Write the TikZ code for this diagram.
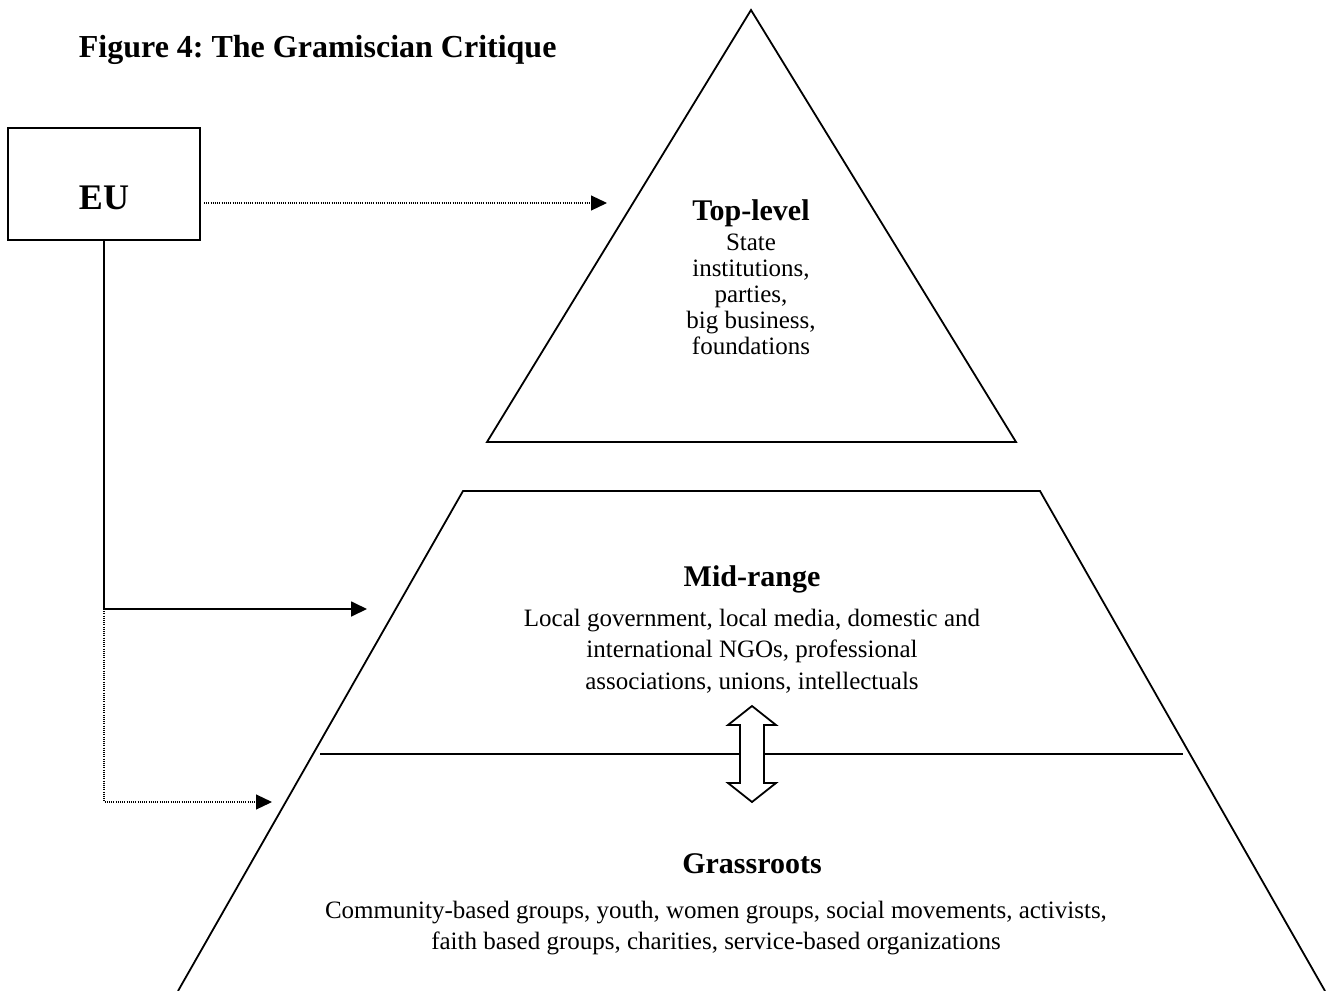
\documentclass[tikz,border=0pt]{standalone}
\usepackage{fontspec}
\setmainfont{Liberation Serif}
\usetikzlibrary{arrows.meta}
\frenchspacing

\tikzset{
	tip/.style={-{Triangle[length=8pt,width=7.5pt]}},
	dots/.style={line width=0.6pt, dash pattern=on 0.5pt off 0.6pt},
	levelhead/.style={anchor=base, inner sep=0pt, font=\fontsize{15}{17}\selectfont\bfseries},
	leveltext/.style={anchor=north, inner sep=0pt, align=center},
}

\begin{document}
\begin{tikzpicture}[x=0.5pt, y=-0.5pt, line width=0.9pt]
		\useasboundingbox (0,0) rectangle (1335,991);
		
		\node [anchor=base west, inner sep=0pt, font=\fontsize{16}{18}\selectfont\bfseries] (title) at (78,57) {Figure 4: The Gramiscian Critique};
		
		% pyramid
		\draw (751,10) -- (487,442) -- (1016,442) -- cycle;
		\draw (178,991) -- (463,491) -- (1040,491) -- (1325,991);
		\draw (320,754) -- (1183,754);
		\draw [fill=white] (740,783) -- (740,725) -- (728,725) -- (752,706) -- (776,725) -- (764,725) -- (764,783) -- (776,783) -- (752,802) -- (728,783) -- (740,783) -- cycle;
		
		\node [levelhead] (tophead) at (751,220) {Top-level};
		\node [leveltext, font=\fontsize{12.5}{13}\selectfont] (toptext) at (751,233) {State\\institutions,\\parties,\\big business,\\foundations};
		
		\node [levelhead] (midhead) at (752,586) {Mid-range};
		\node [leveltext, font=\fontsize{12.5}{15.7}\selectfont] (midtext) at (752,608) {Local government, local media, domestic and\\international NGOs, professional\\associations, unions, intellectuals};
		
		\node [levelhead] (grasshead) at (752,873) {Grassroots};
		\node [leveltext, font=\fontsize{12.5}{15.7}\selectfont] (grasstext) at (716,900) {Community-based groups, youth, women groups, social movements, activists,\\faith based groups, charities, service-based organizations};
		
		% EU and its links
		\node [draw, minimum width=96pt, minimum height=56pt, inner sep=0pt] (eu) at (104,184) {};
		\node [anchor=base, inner sep=0pt, font=\fontsize{18}{20}\selectfont\bfseries] (eulabel) at (104,209) {EU};
		
		\coordinate (toptip) at (607,203);
		\coordinate (elbow) at (104,609);
		\coordinate (midtip) at (367,609);
		\coordinate (foot) at (104,802);
		\coordinate (grasstip) at (272,802);
		
		\draw [dots, tip, shorten <=1.5pt] (eu.east |- toptip) -- (toptip);
		\draw [tip] (eu.south) -- (elbow) -- (midtip);
		\draw [dots, tip] (elbow) -- (foot) -- (grasstip);
		
\end{tikzpicture}
\end{document}
